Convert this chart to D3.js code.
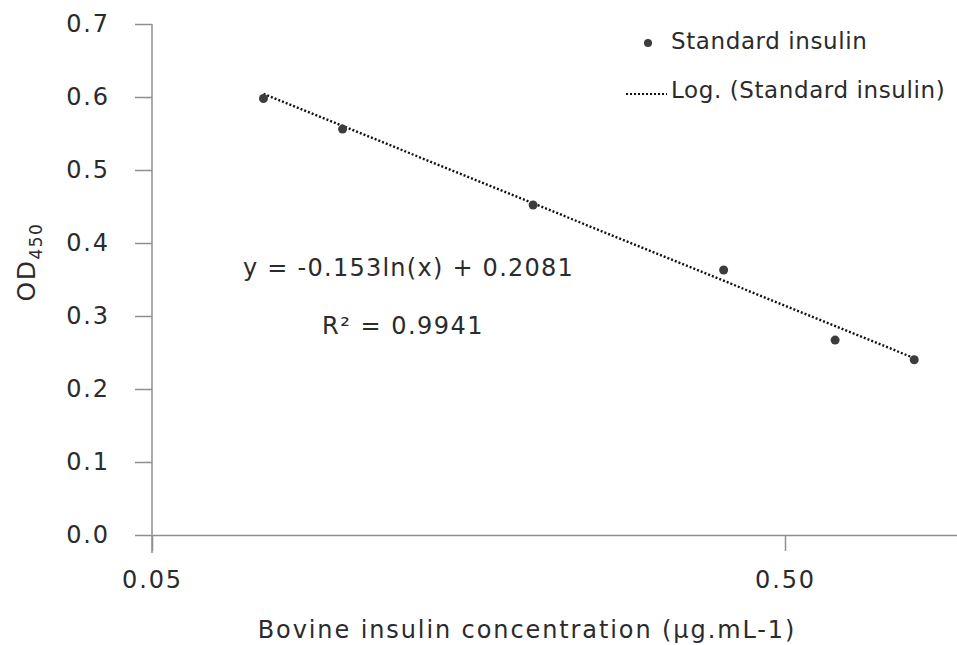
<!DOCTYPE html>
<html>
<head>
  <script src="https://d3js.org/d3.v7.min.js"></script>
  <style>
    body { margin: 0; background: #fff; }
    text { font-family: "DejaVu Sans", sans-serif; fill: #2b2b2b; }
  </style>
</head>
<body>
  <svg id="svg" width="957" height="645"></svg>
  <script>
    // data
    const concentrations = [0.075, 0.1, 0.2, 0.4, 0.6, 0.8];
    const odValues = [0.598, 0.556, 0.452, 0.363, 0.267, 0.240];
    const xTicks = [0.05, 0.5];
    const yTicks = [0, 0.1, 0.2, 0.3, 0.4, 0.5, 0.6, 0.7];
    const trendCoef = [-0.153, 0.2081];   // y = a ln(x) + b
    const seriesName = "Standard insulin";
    const trendName = "Log. (Standard insulin)";

    const svg = d3.select("#svg");
    const margins = { left: 152, top: 24 };
    const decade = 633;

    const xScale = d3.scaleLog().domain([0.05, 5]).range([margins.left, margins.left + 2 * decade]);
    const yScale = d3.scaleLinear().domain([0, 0.7]).range([535, margins.top]);

    const axisColor = "#8f8f8f";

    // y axis
    const yAxis = svg.append("g")
      .attr("transform", `translate(${margins.left},0)`)
      .call(d3.axisLeft(yScale).tickValues(yTicks).tickFormat(d3.format(".1f"))
        .tickSize(17).tickSizeOuter(0).tickPadding(25));
    yAxis.select(".domain").attr("stroke", axisColor).attr("stroke-width", 1.5)
      .attr("d", `M0,${margins.top}V553`);
    yAxis.selectAll(".tick line").attr("stroke", axisColor).attr("stroke-width", 1.5);
    yAxis.selectAll(".tick text")
      .style("font-size", "24px").style("letter-spacing", "1.9px").attr("fill", "#2b2b2b");

    // x axis
    const xAxis = svg.append("g")
      .attr("transform", `translate(0,${yScale(0)})`)
      .call(d3.axisBottom(xScale).tickValues(xTicks).tickFormat(d3.format(".2f"))
        .tickSize(16).tickSizeOuter(0).tickPadding(20));
    xAxis.select(".domain").attr("stroke", axisColor).attr("stroke-width", 1.5);
    xAxis.selectAll(".tick line").attr("stroke", axisColor).attr("stroke-width", 1.5);
    xAxis.selectAll(".tick text")
      .style("font-size", "24px").style("letter-spacing", "1.9px").attr("fill", "#2b2b2b");

    // axis titles
    svg.append("text")
      .attr("x", 527).attr("y", 638)
      .attr("text-anchor", "middle")
      .style("font-size", "24px").style("letter-spacing", "1.9px")
      .text("Bovine insulin concentration (µg.mL-1)");

    const yTitle = svg.append("text")
      .attr("transform", "translate(35,262) rotate(-90)")
      .attr("text-anchor", "middle")
      .style("font-size", "25px").style("letter-spacing", "1.5px");
    yTitle.append("tspan").text("OD");
    yTitle.append("tspan").attr("dy", 7).style("font-size", "17px").text("450");

    // trend line (logarithmic fit, straight on a log axis)
    const trendX = [d3.min(concentrations), d3.max(concentrations)];
    const line = d3.line()
      .x(d => xScale(d))
      .y(d => yScale(trendCoef[0] * Math.log(d) + trendCoef[1]));
    svg.append("path")
      .attr("d", line(trendX))
      .attr("fill", "none")
      .attr("stroke", "#111")
      .attr("stroke-width", 2.4)
      .attr("stroke-dasharray", "2,2");

    // points
    svg.selectAll("circle.pt")
      .data(concentrations)
      .join("circle")
      .attr("class", "pt")
      .attr("cx", d => xScale(d))
      .attr("cy", (d, i) => yScale(odValues[i]))
      .attr("r", 4.5)
      .attr("fill", "#3d3d3d");

    // equation labels
    svg.append("text").attr("x", 243).attr("y", 276)
      .style("font-size", "24px").style("letter-spacing", "1.25px")
      .text("y = -0.153ln(x) + 0.2081");
    svg.append("text").attr("x", 322).attr("y", 334)
      .style("font-size", "24px").style("letter-spacing", "1.5px")
      .text("R² = 0.9941");

    // legend
    svg.append("circle").attr("cx", 648).attr("cy", 43).attr("r", 4).attr("fill", "#3d3d3d");
    svg.append("text").attr("x", 671).attr("y", 49)
      .style("font-size", "23px").style("letter-spacing", "0.6px").text(seriesName);
    svg.append("line").attr("x1", 626).attr("x2", 667).attr("y1", 94).attr("y2", 94)
      .attr("stroke", "#111").attr("stroke-width", 2).attr("stroke-dasharray", "2,2");
    svg.append("text").attr("x", 671).attr("y", 98)
      .style("font-size", "23px").style("letter-spacing", "0.6px").text(trendName);
  </script>
</body>
</html>
